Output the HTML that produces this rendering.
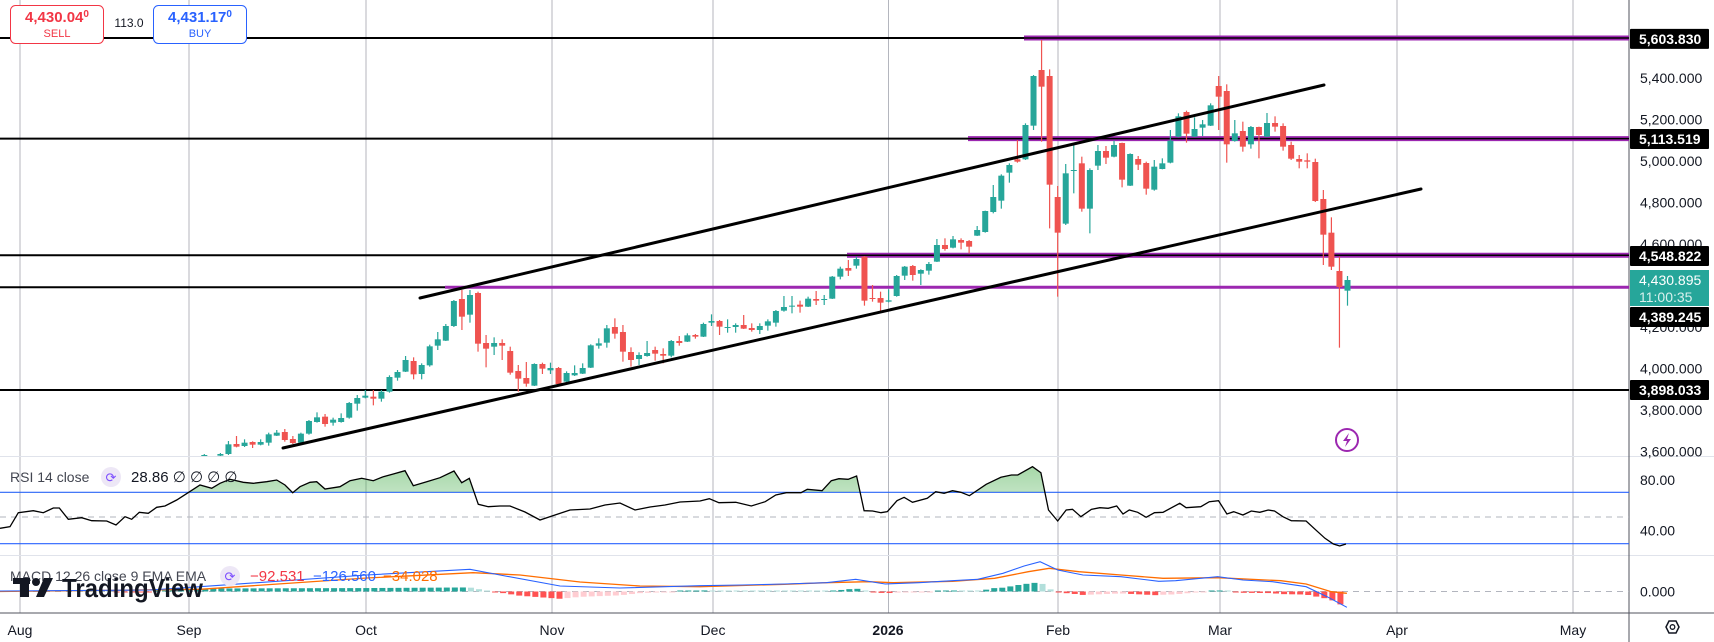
<!DOCTYPE html>
<html><head><meta charset="utf-8"><style>
html,body{margin:0;padding:0;background:#fff;}
svg{display:block;font-family:"Liberation Sans",sans-serif;}
</style></head><body>
<svg id="c" width="1714" height="642" viewBox="0 0 1714 642" xmlns="http://www.w3.org/2000/svg">
<defs>
<clipPath id="pp"><rect x="0" y="0" width="1629" height="456"/></clipPath>
<clipPath id="above70"><rect x="0" y="440" width="1629" height="52.3"/></clipPath>
<linearGradient id="gg" x1="0" y1="0" x2="0" y2="1"><stop offset="0" stop-color="#4caf50" stop-opacity="0.5"/><stop offset="1" stop-color="#4caf50" stop-opacity="0.04"/></linearGradient>
</defs>
<rect width="1714" height="642" fill="#fff"/>
<g id="grid" stroke="#b4b6be" stroke-width="1"></g>
<line x1="0" y1="456.5" x2="1714" y2="456.5" stroke="#e0e3eb"/>
<line x1="0" y1="555.5" x2="1714" y2="555.5" stroke="#e0e3eb"/>
<line x1="0" y1="613" x2="1714" y2="613" stroke="#50535e"/>
<line x1="1629" y1="0" x2="1629" y2="642" stroke="#50535e"/>
<!-- horizontal levels -->
<g stroke-width="2">
<line x1="0" y1="38" x2="1629" y2="38" stroke="#000"/>
<line x1="0" y1="138.6" x2="1629" y2="138.6" stroke="#000"/>
<line x1="0" y1="255.3" x2="1629" y2="255.3" stroke="#000"/>
<line x1="0" y1="287.3" x2="1629" y2="287.3" stroke="#000"/>
<line x1="0" y1="390" x2="1629" y2="390" stroke="#000"/>
</g>
<g stroke="#9c27b0">
<line x1="1024" y1="38" x2="1629" y2="38" stroke-width="5"/>
<line x1="968" y1="138.6" x2="1629" y2="138.6" stroke-width="5"/>
<line x1="847" y1="255.3" x2="1629" y2="255.3" stroke-width="5"/>
<line x1="445" y1="287.3" x2="1629" y2="287.3" stroke-width="3"/>
</g>
<g stroke="#000" stroke-width="1.5">
<line x1="1024" y1="38" x2="1629" y2="38"/>
<line x1="968" y1="138.6" x2="1629" y2="138.6"/>
<line x1="847" y1="255.3" x2="1629" y2="255.3"/>
</g>
<g id="candles" clip-path="url(#pp)"></g>
<!-- channel lines -->
<g stroke="#000" stroke-width="3" stroke-linecap="round">
<line x1="420" y1="298" x2="1324" y2="85"/>
<line x1="283" y1="448" x2="1421" y2="189"/>
</g>
<!-- lightning -->
<circle cx="1347" cy="440" r="11" fill="#fff" stroke="#9c27b0" stroke-width="2"/>
<path d="M1349 433 L1343 441 L1347 441 L1345 447 L1351 439 L1347 439 Z" fill="#9c27b0"/>
<!-- RSI -->
<line x1="0" y1="492.3" x2="1629" y2="492.3" stroke="#2962ff" stroke-width="1.2"/>
<line x1="0" y1="543.7" x2="1629" y2="543.7" stroke="#2962ff" stroke-width="1.2"/>
<line x1="0" y1="517" x2="1629" y2="517" stroke="#b2b5be" stroke-dasharray="6,5"/>
<g id="rsi"></g>
<!-- MACD -->
<line x1="0" y1="591.5" x2="1629" y2="591.5" stroke="#b2b5be" stroke-dasharray="6,5"/>
<g id="macd"></g>
<!-- top-left boxes -->
<rect x="10.5" y="5.5" width="93" height="38" rx="5" fill="#fff" stroke="#f23645"/>
<text x="57" y="22" text-anchor="middle" font-size="15" font-weight="bold" fill="#f23645">4,430.04<tspan font-size="10" dy="-5">0</tspan></text>
<text x="57" y="37" text-anchor="middle" font-size="11" fill="#f23645">SELL</text>
<text x="129" y="27" text-anchor="middle" font-size="12" fill="#131722">113.0</text>
<rect x="153.5" y="5.5" width="93" height="38" rx="5" fill="#fff" stroke="#2962ff"/>
<text x="200" y="22" text-anchor="middle" font-size="15" font-weight="bold" fill="#2962ff">4,431.17<tspan font-size="10" dy="-5">0</tspan></text>
<text x="200" y="37" text-anchor="middle" font-size="11" fill="#2962ff">BUY</text>
<!-- indicator labels -->
<text x="10" y="482" font-size="14" fill="#434651">RSI 14 close</text>
<circle cx="111" cy="477" r="10" fill="#ede7f6"/>
<text x="111" y="482" text-anchor="middle" font-size="13" fill="#7c4dff">⟳</text>
<text x="131" y="482" font-size="15" fill="#131722">28.86  ∅  ∅  ∅  ∅</text>
<text x="10" y="581" font-size="14" fill="#434651">MACD 12 26 close 9 EMA EMA</text>
<circle cx="230" cy="576" r="10" fill="#ede7f6"/>
<text x="230" y="581" text-anchor="middle" font-size="13" fill="#7c4dff">⟳</text>
<text x="250" y="581" font-size="15" fill="#f23645">−92.531</text>
<text x="313" y="581" font-size="15" fill="#2962ff">−126.560</text>
<text x="383" y="581" font-size="15" fill="#ff6d00">−34.028</text>
<!-- logo -->
<g fill="#131722">
<rect x="13" y="578" width="17" height="6"/><rect x="20" y="578" width="9" height="19"/>
<circle cx="36" cy="582" r="4"/><path d="M44 578 L53 578 L44 597 L36 597 Z"/>
<text x="62" y="597" font-size="26" font-weight="bold" textLength="141" lengthAdjust="spacingAndGlyphs">TradingView</text>
</g>
<!-- right axis -->
<g font-size="14" fill="#131722" id="ax"></g>
<!-- time axis -->
<g font-size="14" fill="#131722" text-anchor="middle">
<text x="20" y="635">Aug</text><text x="189" y="635">Sep</text><text x="366" y="635">Oct</text>
<text x="552" y="635">Nov</text><text x="713" y="635">Dec</text><text x="888" y="635" font-weight="bold">2026</text>
<text x="1058" y="635">Feb</text><text x="1220" y="635">Mar</text><text x="1397" y="635">Apr</text><text x="1573" y="635">May</text>
</g>
<path d="M1666 627 l3 -6 h7 l3 6 l-3 6 h-7 z" fill="none" stroke="#131722" stroke-width="1.5"/>
<circle cx="1672.5" cy="627" r="2.3" fill="none" stroke="#131722" stroke-width="1.3"/>
</svg>
<script>
(function(){
var NS="http://www.w3.org/2000/svg";
function el(p,t,a,txt){var e=document.createElementNS(NS,t);for(var k in a)e.setAttribute(k,a[k]);if(txt!=null)e.textContent=txt;p.appendChild(e);return e;}
var g=document.getElementById('grid');
[20,189,366,552,713,888.5,1058,1220,1397,1573].forEach(function(x){el(g,'line',{x1:x,y1:0,x2:x,y2:613});});
// candles
var Z6=[[73,'g',615,618],null,[120,'g',612,617],[145,'g',583,612,573,615],[170,'r',582,590,558,592],[193,'g',578,588,568,591],[217,'r',576,584,574,594],[241,'g',576,584,568,586],[265,'g',553,578,548,587],[289,'g',548,557,540,558],[313,'r',546,570,537,575],[340,'r',567,579,558,582],[364,'g',551,578],[388,'g',513,551],[411,'g',502,516,487,518],[436,'r',500,522,492,530],[460,'g',509,518,503,527],[484,'g',504,516,490,518],[508,'g',459,503],[532,'g',444,461,435,482],[556,'g',437,443,420,445],[580,'r',440,446,420,466],[604,'g',425,446,420,455],[628,'g',381,425,376,428],[652,'g',366,383,360,392],[676,'g',330,365,318,366],[700,'r',333,373,322,388],[724,'g',345,372,340,388],[748,'g',289,346,284,350],[772,'g',268,287,246,300],[799,'g',228,272,222,273],[823,'g',153,228,150,231],[847,'r',147,200,120,240],[871,'g',135,194,120,218],[896,'r',129,281,125,305],[919,'r',279,296,255,352],[943,'g',279,290,262,315],[967,'r',279,287,268,330],[991,'r',303,368,290,374],[1015,'r',363,386,345,425],[1039,'r',384,401,336,410],[1063,'g',342,407,340,408],[1087,'r',342,356,338,372],[1111,'g',354,361,338,372],[1135,'r',354,402],[1159,'g',369,395,364,397],[1183,'g',369,376,346,378],[1207,'g',354,371,340,372],[1231,'g',286,353,283,354],[1255,'g',280,287,265,296]];
var Z7=[[22,'g',535,578,525,593],[46,'r',531,551,505,566],[70,'r',546,605,525,635],[94,'r',606,630,592,650],[118,'g',615,627,607,645],[142,'g',609,618,573,620],[166,'r',600,611,590,632],[190,'r',612,617,595,640],[214,'g',573,617,570,622],[238,'r',573,579,558,587],[262,'g',556,575,550,576],[286,'r',555,560,552,566],[310,'g',522,560,518,561],[334,'g',513,518,493,528],[358,'r',513,530,510,555],[382,'g',531,533,508,548],[406,'g',525,531,520,548],[430,'r',525,536,495,537],[454,'r',534,540,520,545],[478,'g',528,540,520,552],[502,'g',514,527,508,542],[526,'g',483,518,480,530],[550,'g',471,482,438,485],[574,'g',467,470,438,490],[598,'r',464,470,452,488],[622,'g',446,470,440,471],[646,'r',447,452,423,465],[670,'g',447,449,435,465],[694,'g',380,446,378,447],[718,'g',356,380,350,388],[742,'r',354,362,330,378],[766,'g',327,347,320,356],[790,'r',320,452,318,467],[814,'r',444,447,405,455],[838,'r',444,458,425,483],[862,'g',451,455,418,457],[886,'g',378,438,375,440],[910,'g',350,377,348,390],[934,'r',348,375,345,392],[958,'g',360,371,358,405],[982,'g',342,362,336,374],[1006,'g',285,335,267,336],[1030,'r',285,297,265,302],[1054,'g',268,293,258,295]];
var Z8=[[5,'r',660,668,655,688],[29,'r',663,680,660,700],[52,'g',630,647,618,648],[76,'g',573,636,572,638],[100,'g',531,576,495,580],[124,'g',467,542,463,566],[148,'g',435,458,430,488],[172,'r',418,425,360,428],[196,'g',315,418,310,420],[220,'g',168,317,165,330],[244,'r',150,200,60,365],[268,'r',168,494,148,625],[296,'r',531,638,498,830],[320,'g',460,611,432,615],[344,'g',450,452,375,520],[368,'r',430,566,410,575],[392,'g',450,566,445,640],[416,'g',393,437,375,450],[440,'r',393,413,378,432],[464,'g',375,410,362,412],[488,'r',369,479,368,502],[512,'g',402,497,400,498],[536,'r',417,434,408,450],[560,'r',429,506,425,524],[584,'g',440,509,420,512],[608,'g',430,447,415,448],[632,'g',362,428,330,430],[656,'g',289,350,280,352],[680,'r',276,341,272,368],[704,'g',327,350,292,351],[728,'g',313,323,300,348],[752,'g',256,317,250,318],[779,'r',198,230,168,330],[803,'r',213,373,193,428],[827,'g',340,363,300,365],[851,'r',333,380,305,395],[875,'g',321,373,318,386],[899,'r',321,345,320,415],[923,'g',309,350,279,351],[947,'r',309,320,289,335],[971,'r',318,380,310,392],[995,'r',375,416,365,420],[1019,'r',417,425,405,445],[1043,'r',421,425,400,445],[1067,'r',426,543,416,546],[1091,'r',537,644,510,735],[1115,'r',638,740,592,750],[1139,'r',753,801,710,983],[1163,'g',780,812,768,857]];
var all=[];
Z6.forEach(function(c){all.push(c?{c:c,oy:250}:null);});
Z7.forEach(function(c){all.push({c:c,oy:150});});
Z8.forEach(function(c){all.push({c:c,oy:20});});
var cg=document.getElementById('candles');
var N=all.length, x0=204.3, sp=(1347.5-204.3)/(N-1);
all.forEach(function(o,i){if(!o)return;var c=o.c,x=x0+i*sp;
 var col=c[1]=='g'?'#26a69a':'#ef5350';
 var t=o.oy+c[2]/3,b=o.oy+c[3]/3;
 var hi=c.length>4?o.oy+c[4]/3:t-1, lo=c.length>5?o.oy+c[5]/3:b+1;
 el(cg,'line',{x1:x,y1:hi,x2:x,y2:lo,stroke:col,'stroke-width':1.2});
 el(cg,'rect',{x:x-3,y:t,width:6,height:Math.max(1,b-t),fill:col});
});
// RSI
var R=[[0,528.3],[10,526.7],[18.3,512.7],[33.3,510.7],[43.3,512.7],[53.3,508],[59.3,508],[68.3,519.3],[81.7,517.7],[91.7,520.7],[106.7,521],[116,525],[125,516.7],[131.7,519.3],[139.3,512.3],[148.3,513.3],[156.7,507.3],[165,506],[176.7,500],[188.7,492.3],[200,485],[211.7,488.3],[220,483.3],[230,479.3],[243.3,482.3],[253.3,483.3],[266.7,481.7],[276.7,480],[285,485],[292.7,492.7],[300,486.7],[310,482.3],[316.7,481.7],[325,489],[340,486.7],[350,480.7],[361.7,478.3],[373.3,480.7],[383.3,476.7],[393.3,474],[405,470.7],[413.3,485.7],[426.7,481.7],[440,477.7],[454,471],[461.7,482.7],[469.3,478.3],[478.3,504.3],[488.3,506.7],[500,506],[510,506],[525,512],[540,520],[555,515],[570,510],[590,509],[605,505],[620,503],[635,510],[650,507],[665,505],[680,502]];
var RZ=[[0,183],[22,176],[45,188],[85,187],[122,198],[155,185],[180,165],[205,158],[240,158],[255,148],[290,152],[312,122],[330,116],[352,118],[372,108],[390,212],[410,213],[430,218],[445,215],[468,182],[485,172],[505,187],[540,175],[560,155],[580,160],[600,152],[620,157],[640,167],[680,133],[715,112],[740,105],[755,105],[790,80],[810,98],[828,210],[850,243],[870,210],[885,208],[905,230],[930,208],[950,203],[970,205],[990,198],[1005,222],[1020,210],[1040,217],[1060,232],[1080,218],[1100,217],[1140,190],[1155,203],[1190,200],[1210,185],[1232,182],[1252,222],[1268,215],[1290,225],[1310,213],[1330,217],[1350,210],[1365,213],[1385,230],[1405,242],[1440,243],[1465,272],[1485,295],[1505,312],[1520,318],[1535,312]];
RZ.forEach(function(p){R.push([700+p[0]/2.376,440+p[1]/3]);});
var rg=document.getElementById('rsi');
var d=R.map(function(p,i){return (i?'L':'M')+p[0].toFixed(1)+' '+p[1].toFixed(1);}).join(' ');
var last=R[R.length-1];
el(rg,'path',{d:d+' L'+last[0]+' 492.3 L0 492.3 Z',fill:'url(#gg)','clip-path':'url(#above70)'});
el(rg,'path',{d:d,fill:'none',stroke:'#000','stroke-width':1.3});
// MACD
var B=[[0,591],[150,590],[200,586.7],[366.7,575],[470,569.3],[500,575],[560,586],[620,588]];
var O=[[0,591.5],[200,589.3],[366.7,578],[473,572.7],[520,575],[580,582],[640,586]];
[[0,437],[100,435],[200,432],[300,428],[370,418],[440,432],[520,428],[600,422],[660,418],[720,400],[770,378],[808,365],[850,390],[910,405],[1000,410],[1090,424],[1130,422],[1230,410],[1290,420],[1360,425],[1440,440],[1490,470],[1537,502]].forEach(function(p){B.push([700+p[0]/2.376,440+p[1]/3]);});
[[0,440],[200,433],[300,428],[400,425],[460,428],[600,424],[700,415],[780,395],[830,385],[900,395],[1000,405],[1100,415],[1230,413],[1380,422],[1440,432],[1500,455],[1537,460]].forEach(function(p){O.push([700+p[0]/2.376,440+p[1]/3]);});
function interp(A,x){if(x<=A[0][0])return A[0][1];for(var i=1;i<A.length;i++){if(x<=A[i][0]){var a=A[i-1],b=A[i];return a[1]+(b[1]-a[1])*(x-a[0])/(b[0]-a[0]);}}return A[A.length-1][1];}
var mg=document.getElementById('macd');
var prev=0;
for(var x=4;x<=1348;x+=sp){
 var h=(interp(O,x)-interp(B,x))*1.15;
 var col=h>=0?(h>=prev?'#26a69a':'#b2dfdb'):(h<=prev?'#ff5252':'#ffcdd2');
 prev=h;
 var y=591.5, hh=Math.max(1,Math.abs(h));
 el(mg,'rect',{x:x-3,y:h>=0?y-hh:y,width:6,height:hh,fill:col});
}
function pth(A){return A.map(function(p,i){return (i?'L':'M')+p[0].toFixed(1)+' '+p[1].toFixed(1);}).join(' ');}
el(mg,'path',{d:pth(O),fill:'none',stroke:'#ff6d00','stroke-width':1.3});
el(mg,'path',{d:pth(B),fill:'none',stroke:'#2962ff','stroke-width':1.1});
// axis
var ax=document.getElementById('ax');
[['5,400.000',77.8],['5,200.000',119.6],['5,000.000',161],['4,800.000',202.7],['4,600.000',244],['4,200.000',327],['4,000.000',368.5],['3,800.000',410],['3,600.000',451.5],['80.00',480],['40.00',530.6],['0.000',591.6]].forEach(function(l){el(ax,'text',{x:1640,y:l[1]+5},l[0]);});
[['5,603.830',38.9],['5,113.519',139],['4,548.822',256],['4,389.245',317],['3,898.033',390]].forEach(function(l){
 el(ax,'rect',{x:1630,y:l[1]-10,width:79,height:20,fill:'#000',rx:1});
 el(ax,'text',{x:1639,y:l[1]+5,fill:'#fff','font-weight':'bold'},l[0]);});
el(ax,'rect',{x:1630,y:270,width:79,height:36,fill:'#26a69a'});
el(ax,'text',{x:1639,y:285,fill:'#fff'},'4,430.895');
el(ax,'text',{x:1639,y:302,fill:'#d8f0ed'},'11:00:35');
})();
</script>
</body></html>
